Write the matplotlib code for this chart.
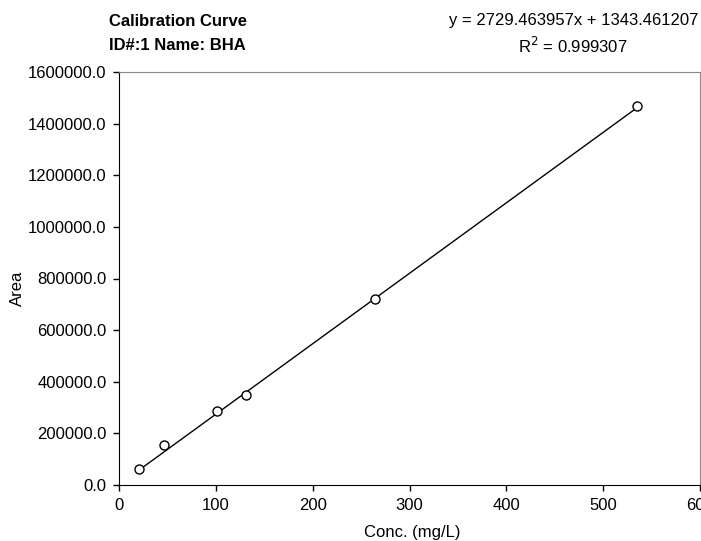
import matplotlib.pyplot as plt
import numpy as np
from matplotlib.ticker import FormatStrFormatter

plt.rcParams['font.family'] = ['Liberation Sans', 'DejaVu Sans']

# calibration standards
conc = [20.7, 46.5, 101.0, 131.6, 264.7, 534.6]
area = [63000, 154600, 286000, 347800, 721600, 1468600]

slope = 2729.463957
intercept = 1343.461207
r2 = 0.999307

W, H = 701, 541
fig = plt.figure(figsize=(W / 100, H / 100), dpi=100)
ax = fig.add_axes([119 / W, 1 - 485 / H, (700 - 119) / W, (485 - 72) / H])

xfit = np.array([min(conc), max(conc)])
ax.plot(xfit, slope * xfit + intercept, color='black', lw=1.0)
ax.plot(conc, area, 'o', mfc='white', mec='black', ms=6.5, mew=1.0)

ax.set_xlim(0, 600)
ax.set_ylim(0, 1600000)
ax.set_xticks(range(0, 601, 100))
ax.set_yticks(range(0, 1600001, 200000))
ax.yaxis.set_major_formatter(FormatStrFormatter('%.1f'))
ax.tick_params(direction='out', length=4, width=1, labelsize=12, pad=5, colors='black')

for s in ['top', 'right']:
    ax.spines[s].set_color('#888888')
for s in ['left', 'bottom']:
    ax.spines[s].set_color('black')

ax.set_xlabel('Conc. (mg/L)', fontsize=12)
ax.set_ylabel('Area', fontsize=12)
ax.xaxis.set_label_coords((412 - 119) / (700 - 119), -(533 - 485) / (485 - 72))
ax.yaxis.set_label_coords(-(119 - 17) / (700 - 119), (485 - 288) / (485 - 72))
ax.xaxis.label.set_va('center')
ax.yaxis.label.set_va('center')

fig.text(109 / W, 1 - 21 / H, 'Calibration Curve', fontsize=12, fontweight='bold', va='center', ha='left')
fig.text(109 / W, 1 - 46 / H, 'ID#:1 Name: BHA', fontsize=12, fontweight='bold', va='center', ha='left')
fig.text(698 / W, 1 - 20 / H, f'y = {slope:.6f}x + {intercept:.6f}', fontsize=12, va='center', ha='right')
fig.text(573 / W, 1 - 46 / H, f'R$^2$ = {r2:.6f}', fontsize=12, va='center', ha='center')

fig.savefig('out.png', dpi=100)
